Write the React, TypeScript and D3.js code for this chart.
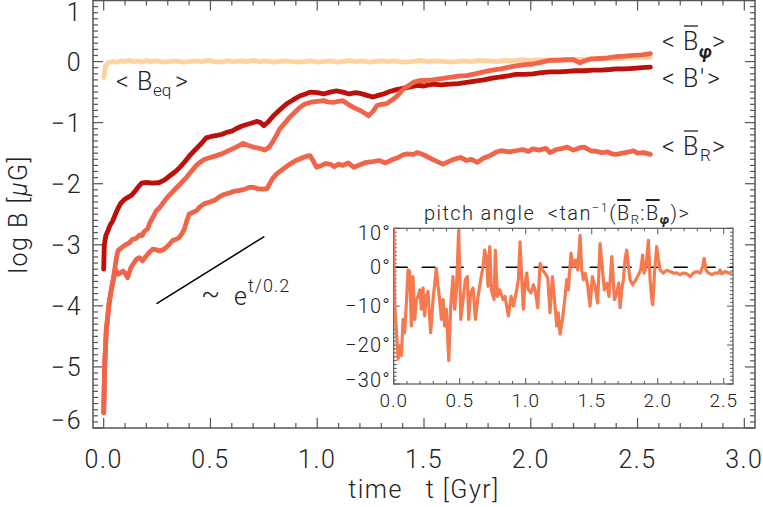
import React from 'react';
import * as d3 from 'd3';

type P = [number, number];

const W = 763;
const H = 507;

// main axes
const xMajorTicks = [0, 0.5, 1.0, 1.5, 2.0, 2.5, 3.0];
const xTickLabels = ['0.0', '0.5', '1.0', '1.5', '2.0', '2.5', '3.0'];
const yMajorTicks = [1, 0, -1, -2, -3, -4, -5, -6];
const yTickLabels = ['1', '0', '−1', '−2', '−3', '−4', '−5', '−6'];

// inset axes
const insetXTicks = [0, 0.5, 1.0, 1.5, 2.0, 2.5];
const insetXTickLabels = ['0.0', '0.5', '1.0', '1.5', '2.0', '2.5'];
const insetYTicks = [10, 0, -10, -20, -30];
const insetYTickLabels = ['10°', '0°', '−10°', '−20°', '−30°'];

// <B_eq>
const bEq: P[] = [
  [0.0, -0.26], [0.008, -0.08], [0.02, -0.02], [0.04, 0.0], [0.06, -0.01], [0.08, 0.01], [0.1, 0.0],
  [0.12, 0.02], [0.14, 0.0], [0.16, 0.01], [0.18, -0.01], [0.2, 0.02], [0.22, 0.0], [0.25, 0.01],
  [0.28, -0.01], [0.31, 0.0], [0.34, 0.01], [0.37, -0.01], [0.4, 0.0], [0.43, 0.01], [0.46, 0.0],
  [0.49, 0.02], [0.52, 0.0], [0.55, -0.01], [0.58, 0.01], [0.61, 0.0], [0.64, 0.01], [0.67, 0.0],
  [0.7, 0.02], [0.73, 0.0], [0.76, 0.01], [0.79, -0.01], [0.82, 0.0], [0.85, 0.01], [0.88, 0.0],
  [0.91, -0.01], [0.94, 0.0], [0.97, 0.01], [1.0, -0.01], [1.03, 0.0], [1.06, 0.01], [1.09, -0.01],
  [1.12, 0.0], [1.15, 0.02], [1.18, 0.0], [1.21, 0.01], [1.24, -0.01], [1.27, 0.0], [1.3, 0.01],
  [1.33, 0.0], [1.36, 0.01], [1.4, -0.01], [1.44, 0.0], [1.48, 0.02], [1.52, 0.0], [1.56, 0.01],
  [1.6, 0.0], [1.64, -0.01], [1.68, 0.01], [1.72, 0.0], [1.76, 0.02], [1.8, 0.01], [1.84, 0.0],
  [1.88, 0.02], [1.92, 0.01], [1.96, 0.03], [2.0, 0.02], [2.04, 0.03], [2.08, 0.02], [2.12, 0.04],
  [2.16, 0.03], [2.2, 0.04], [2.24, 0.03], [2.28, 0.05], [2.32, 0.04], [2.36, 0.05], [2.4, 0.05],
  [2.44, 0.06], [2.48, 0.06], [2.52, 0.07], [2.56, 0.07],
];

// <B'>
const bPrime: P[] = [
  [0, -3.4], [0.003, -3.0], [0.01, -2.85], [0.02, -2.77], [0.03, -2.68], [0.042, -2.61], [0.055, -2.5],
  [0.066, -2.41], [0.08, -2.32], [0.097, -2.26], [0.115, -2.22], [0.13, -2.19], [0.152, -2.1],
  [0.165, -2.04], [0.178, -1.99], [0.2, -1.98], [0.23, -1.99], [0.26, -1.98], [0.284, -1.94],
  [0.31, -1.87], [0.34, -1.79], [0.36, -1.72], [0.38, -1.64], [0.4, -1.55], [0.43, -1.44],
  [0.46, -1.33], [0.48, -1.25], [0.5, -1.23], [0.53, -1.21], [0.555, -1.19], [0.575, -1.16],
  [0.6, -1.14], [0.62, -1.1], [0.645, -1.06], [0.67, -1.03], [0.69, -1.01], [0.716, -0.98],
  [0.735, -1.0], [0.75, -1.05], [0.77, -0.99], [0.794, -0.89], [0.825, -0.79], [0.857, -0.69],
  [0.89, -0.62], [0.92, -0.56], [0.945, -0.53], [0.966, -0.5], [1.0, -0.51], [1.03, -0.53],
  [1.06, -0.5], [1.09, -0.48], [1.12, -0.5], [1.15, -0.53], [1.18, -0.51], [1.2, -0.52],
  [1.23, -0.55], [1.26, -0.58], [1.29, -0.55], [1.31, -0.53], [1.34, -0.49], [1.37, -0.46],
  [1.4, -0.44], [1.43, -0.42], [1.47, -0.39], [1.5, -0.4], [1.54, -0.37], [1.58, -0.38],
  [1.62, -0.37], [1.66, -0.36], [1.7, -0.34], [1.74, -0.32], [1.78, -0.3], [1.82, -0.27],
  [1.86, -0.25], [1.9, -0.23], [1.93, -0.21], [1.97, -0.21], [2.01, -0.2], [2.05, -0.18],
  [2.09, -0.17], [2.13, -0.17], [2.17, -0.16], [2.21, -0.15], [2.25, -0.15], [2.29, -0.14],
  [2.33, -0.14], [2.37, -0.13], [2.4, -0.12], [2.44, -0.12], [2.48, -0.11], [2.52, -0.1], [2.56, -0.09],
];

// <B_phi>
const bPhi: P[] = [
  [0, -5.75], [0.005, -4.96], [0.012, -4.41], [0.025, -3.97], [0.035, -3.75], [0.044, -3.59],
  [0.052, -3.4], [0.06, -3.21], [0.067, -3.1], [0.075, -3.07], [0.09, -3.03], [0.106, -2.99],
  [0.12, -2.97], [0.135, -2.91], [0.15, -2.9], [0.169, -2.84], [0.18, -2.85], [0.19, -2.78],
  [0.206, -2.74], [0.216, -2.64], [0.23, -2.55], [0.247, -2.44], [0.26, -2.4], [0.275, -2.33],
  [0.294, -2.24], [0.31, -2.18], [0.34, -2.07], [0.36, -2.0], [0.387, -1.9], [0.41, -1.8],
  [0.434, -1.7], [0.455, -1.64], [0.473, -1.6], [0.5, -1.57], [0.528, -1.54], [0.56, -1.5],
  [0.59, -1.45], [0.62, -1.4], [0.653, -1.34], [0.675, -1.37], [0.7, -1.4], [0.73, -1.42],
  [0.755, -1.45], [0.775, -1.4], [0.794, -1.3], [0.81, -1.2], [0.825, -1.1], [0.85, -1.0],
  [0.872, -0.91], [0.895, -0.83], [0.919, -0.75], [0.94, -0.7], [0.966, -0.67], [1.0, -0.65],
  [1.03, -0.64], [1.05, -0.66], [1.075, -0.67], [1.1, -0.65], [1.12, -0.64], [1.145, -0.7],
  [1.17, -0.75], [1.2, -0.8], [1.225, -0.85], [1.24, -0.89], [1.26, -0.82], [1.28, -0.72],
  [1.3, -0.7], [1.325, -0.69], [1.35, -0.63], [1.37, -0.58], [1.39, -0.5], [1.41, -0.43],
  [1.43, -0.39], [1.45, -0.34], [1.48, -0.31], [1.51, -0.31], [1.54, -0.3], [1.58, -0.28],
  [1.62, -0.26], [1.66, -0.24], [1.7, -0.23], [1.74, -0.2], [1.78, -0.17], [1.82, -0.14],
  [1.86, -0.12], [1.9, -0.09], [1.93, -0.07], [1.97, -0.05], [2.01, -0.04], [2.05, -0.01],
  [2.09, 0.02], [2.13, 0.02], [2.17, 0.03], [2.2, 0.03], [2.23, -0.02], [2.25, 0.01], [2.28, 0.04],
  [2.32, 0.05], [2.36, 0.06], [2.4, 0.08], [2.44, 0.09], [2.48, 0.1], [2.52, 0.11], [2.56, 0.13],
];

// <B_R>
const bR: P[] = [
  [0, -5.75], [0.005, -4.96], [0.012, -4.41], [0.025, -3.97], [0.035, -3.75], [0.044, -3.59],
  [0.052, -3.45], [0.06, -3.43], [0.066, -3.48], [0.075, -3.47], [0.09, -3.43], [0.1, -3.46],
  [0.112, -3.54], [0.12, -3.45], [0.128, -3.37], [0.143, -3.29], [0.155, -3.23], [0.167, -3.21],
  [0.182, -3.26], [0.2, -3.18], [0.215, -3.12], [0.23, -3.07], [0.245, -3.08], [0.26, -3.1],
  [0.28, -3.08], [0.3, -3.02], [0.323, -2.93], [0.34, -2.91], [0.354, -2.88], [0.366, -2.82],
  [0.378, -2.74], [0.39, -2.6], [0.4, -2.5], [0.417, -2.47], [0.435, -2.44], [0.45, -2.38],
  [0.47, -2.33], [0.497, -2.3], [0.52, -2.27], [0.54, -2.22], [0.56, -2.18], [0.59, -2.15],
  [0.615, -2.12], [0.637, -2.11], [0.66, -2.09], [0.68, -2.06], [0.7, -2.06], [0.72, -2.08],
  [0.745, -2.09], [0.765, -2.08], [0.79, -1.92], [0.81, -1.84], [0.84, -1.76], [0.872, -1.68],
  [0.9, -1.62], [0.934, -1.57], [0.95, -1.55], [0.966, -1.54], [0.98, -1.62], [0.997, -1.73],
  [1.02, -1.7], [1.04, -1.67], [1.06, -1.68], [1.08, -1.72], [1.1, -1.68], [1.12, -1.7],
  [1.145, -1.66], [1.17, -1.73], [1.2, -1.69], [1.23, -1.65], [1.26, -1.64], [1.29, -1.62],
  [1.32, -1.66], [1.356, -1.6], [1.38, -1.57], [1.4, -1.53], [1.42, -1.51], [1.45, -1.52],
  [1.47, -1.49], [1.5, -1.53], [1.54, -1.6], [1.57, -1.65], [1.59, -1.68], [1.62, -1.63],
  [1.64, -1.6], [1.67, -1.57], [1.7, -1.62], [1.72, -1.6], [1.75, -1.65], [1.78, -1.58],
  [1.81, -1.54], [1.84, -1.48], [1.86, -1.46], [1.9, -1.48], [1.93, -1.46], [1.96, -1.44],
  [1.99, -1.47], [2.01, -1.43], [2.04, -1.45], [2.07, -1.42], [2.09, -1.49], [2.12, -1.44],
  [2.15, -1.42], [2.17, -1.4], [2.2, -1.45], [2.23, -1.41], [2.25, -1.4], [2.28, -1.46],
  [2.31, -1.47], [2.33, -1.49], [2.36, -1.48], [2.38, -1.51], [2.4, -1.52], [2.43, -1.5],
  [2.46, -1.48], [2.48, -1.46], [2.5, -1.5], [2.53, -1.49], [2.56, -1.52],
];

// reference growth slope ~ e^{t/0.2}
const growthLine: P[] = [[0.25, -3.96], [0.75, -2.87]];

// pitch angle (degrees)
const pitch: P[] = [
  [0, 12], [0.003, -0.7], [0.008, -10.3], [0.02, -15.9], [0.033, -23.6], [0.045, -20.2], [0.058, -22.7],
  [0.071, -13.4], [0.083, -16.8], [0.096, -9.2], [0.109, -0.7], [0.121, -1.1], [0.134, -15.1],
  [0.146, -2.4], [0.159, -13.4], [0.172, -8.3], [0.184, -7.5], [0.197, -5.8], [0.21, -10.8],
  [0.222, -5.3], [0.235, -12.5], [0.247, -7.5], [0.26, -6.2], [0.273, -13.4], [0.28, -16.8],
  [0.298, -8.3], [0.323, -0.3], [0.336, -4.9], [0.348, -8.3], [0.361, -13.4], [0.374, -8.3],
  [0.386, -15.1], [0.399, -10.8], [0.417, -24.0], [0.432, -10.0], [0.449, -2.4], [0.462, -10.8],
  [0.475, -5.8], [0.492, 9.5], [0.508, -13.4], [0.525, -8.3], [0.543, -3.2], [0.558, -2.4],
  [0.568, -13.4], [0.583, -6.6], [0.601, -5.3], [0.619, -13.4], [0.639, -7.5], [0.659, -3.2],
  [0.677, 0.2], [0.689, 4.4], [0.702, 2.7], [0.715, -4.9], [0.727, 5.3], [0.74, -5.8], [0.76, -8.3],
  [0.77, 4.4], [0.785, -7.5], [0.803, -5.8], [0.828, -8.3], [0.843, -7.5], [0.869, -12.5],
  [0.889, -7.5], [0.907, -10.0], [0.932, -5.8], [0.944, -3.2], [0.957, 6.5], [0.97, -3.2],
  [0.982, -10.8], [0.995, -4.1], [1.008, -1.5], [1.02, -5.8], [1.04, -6.6], [1.058, -4.5],
  [1.071, -5.8], [1.091, -10.4], [1.109, 1.0], [1.126, -0.7], [1.146, -1.5], [1.167, -2.8],
  [1.184, -11.7], [1.202, -2.4], [1.222, -10.0], [1.235, -15.1], [1.247, -11.7], [1.26, -17.2],
  [1.278, -13.4], [1.293, -9.2], [1.311, -3.2], [1.323, -5.8], [1.343, 3.6], [1.361, 0.2],
  [1.379, 1.9], [1.394, -0.7], [1.412, 8.2], [1.424, -0.7], [1.437, -3.2], [1.45, -1.5],
  [1.47, -4.9], [1.487, -10.0], [1.505, -2.4], [1.525, -4.9], [1.545, -9.2], [1.563, 6.1],
  [1.581, -0.7], [1.596, -5.8], [1.614, -4.1], [1.631, -7.5], [1.652, 2.7], [1.672, -8.3],
  [1.689, -6.6], [1.705, -4.1], [1.715, -10.4], [1.727, -5.8], [1.74, -3.2], [1.752, 1.9],
  [1.765, 4.4], [1.778, 0.2], [1.79, -3.2], [1.811, -4.5], [1.828, -3.6], [1.854, -1.9],
  [1.871, -0.7], [1.886, 3.1], [1.896, -1.5], [1.912, 0.2], [1.929, 6.9], [1.942, -3.2],
  [1.955, -8.3], [1.962, -9.6], [1.975, -1.5], [1.992, 5.3], [2.005, 1.9], [2.018, -0.7],
  [2.043, -1.5], [2.068, -0.8], [2.093, -1.1], [2.119, -1.5], [2.144, -1.5], [2.169, -1.9],
  [2.194, -1.5], [2.22, -1.7], [2.245, -2.4], [2.27, -1.5], [2.295, -1.1], [2.321, -1.5],
  [2.341, 0.2], [2.351, 2.3], [2.366, -0.7], [2.384, -1.5], [2.409, -1.9], [2.434, -1.5],
  [2.46, -1.5], [2.472, -0.7], [2.485, -1.7], [2.51, -1.1], [2.535, -1.5], [2.561, -1.5],
];

const C_EQ = '#FDD49E';
const C_PRIME = '#BD100B';
const C_ORANGE = '#F0654A';
const C_INSET = '#F67A50';
const AXIS = '#555';
const TEXT = '#222';
const FONT = 'Roboto, "DejaVu Sans", sans-serif';

function range(a: number, b: number, step: number): number[] {
  const out: number[] = [];
  const n = Math.round((b - a) / step);
  for (let i = 0; i <= n; i++) out.push(+(a + i * step).toFixed(4));
  return out;
}

export default function App() {
  // main frame
  const L = 93, R = 755, T = 0.5, B = 428;
  const x = d3.scaleLinear().domain([-0.05, 3.05]).range([L, R]);
  const y = d3.scaleLinear().domain([-6, 1]).range([B, T]);
  const line = d3.line<P>().x((d) => x(d[0])).y((d) => y(d[1]));

  // inset frame
  const iL = 393.7, iR = 733, iT = 228.3, iB = 384;
  const xi = d3.scaleLinear().domain([0, 2.57]).range([iL, iR]);
  const yi = d3.scaleLinear().domain([-30, 10]).range([iB, iT]);
  const iline = d3.line<P>().x((d) => xi(d[0])).y((d) => yi(d[1]));

  const xMinor = range(0, 3.0, 0.1);
  const yMinor = range(-6, 1, 0.1);
  const ixMinor = range(0, 2.5, 0.1);
  const iyMinor = range(-30, 10, 1);

  const fs = 25;
  const lab = { fontSize: fs, fill: TEXT, letterSpacing: 1.5 } as const;
  const ilab = { fontSize: 20, fill: TEXT, letterSpacing: 1.2 } as const;

  return (
    <svg
      width={W}
      height={H}
      style={{ position: 'absolute', left: 0, top: 0, background: '#fff' }}
      fontFamily={FONT}
      fontWeight={300}
    >
      <rect x={0} y={0} width={W} height={H} fill="#fff" />
      <defs>
        <clipPath id="mainClip">
          <rect x={L} y={0} width={R - L} height={B} />
        </clipPath>
        <clipPath id="insetClip">
          <rect x={iL} y={iT} width={iR - iL} height={iB - iT} />
        </clipPath>
      </defs>

      {/* main frame */}
      <rect x={L} y={T} width={R - L} height={B - T} fill="none" stroke={AXIS} strokeWidth={1.5} />
      {xMinor.map((t) => {
        const major = Math.abs(t * 2 - Math.round(t * 2)) < 1e-6;
        const len = major ? 10 : 5;
        return (
          <g key={'xt' + t} stroke={AXIS} strokeWidth={1.2}>
            <line x1={x(t)} x2={x(t)} y1={B} y2={B - len} />
            <line x1={x(t)} x2={x(t)} y1={T} y2={T + len} />
          </g>
        );
      })}
      {yMinor.map((v) => {
        const major = Math.abs(v - Math.round(v)) < 1e-6;
        const len = major ? 10 : 5;
        return (
          <g key={'yt' + v} stroke={AXIS} strokeWidth={1.2}>
            <line x1={L} x2={L + len} y1={y(v)} y2={y(v)} />
            <line x1={R} x2={R - len} y1={y(v)} y2={y(v)} />
          </g>
        );
      })}
      {xMajorTicks.map((t, i) => (
        <text key={'xl' + t} x={x(t)} y={468} textAnchor="middle" {...lab}>
          {xTickLabels[i]}
        </text>
      ))}
      {yMajorTicks.map((v, i) => {
        const base = Math.min(Math.max(y(v) + 9, 21), B + 1);
        return (
          <text key={'yl' + v} x={82} y={base} textAnchor="end" {...lab}>
            {yTickLabels[i]}
          </text>
        );
      })}
      <text x={(L + R) / 2} y={498} textAnchor="middle" style={{ whiteSpace: 'pre' }} {...lab}>
        {'time   t [Gyr]'}
      </text>
      <text
        transform={`translate(27, ${(T + B) / 2}) rotate(-90)`}
        textAnchor="middle"
        {...lab}
      >
        log B [<tspan fontStyle="italic">μ</tspan>G]
      </text>

      {/* curves */}
      <g clipPath="url(#mainClip)" fill="none" strokeWidth={4.8} strokeLinejoin="round" strokeLinecap="round">
        <path d={line(bEq) || ''} stroke={C_EQ} />
        <path d={line(bPrime) || ''} stroke={C_PRIME} />
        <path d={line(bR) || ''} stroke={C_ORANGE} />
        <path d={line(bPhi) || ''} stroke={C_ORANGE} />
        <path d={line(growthLine) || ''} stroke="#000" strokeWidth={1.5} />
      </g>

      {/* growth label */}
      <text x={201} y={303} fontSize={28} fill={TEXT}>~</text>
      <text x={234} y={305} {...lab}>e</text>
      <text x={248} y={292} fontSize={18} fill={TEXT} letterSpacing={1}>t/0.2</text>

      {/* series labels */}
      <g fill={TEXT} fontSize={fs}>
        {/* <B_phi> */}
        <text x={662} y={50}>&lt;</text>
        <text x={683} y={50}>B</text>
        <line x1={684} x2={698} y1={26} y2={26} stroke={TEXT} strokeWidth={1.3} />
        <text x={699} y={58} fontSize={18} fontStyle="italic" fontWeight={700}>φ</text>
        <text x={712} y={50}>&gt;</text>
        {/* <B'> */}
        <text x={662} y={87}>&lt;</text>
        <text x={683} y={87}>B</text>
        <text x={700} y={87}>'</text>
        <text x={707} y={87}>&gt;</text>
        {/* <B_R> */}
        <text x={662} y={155}>&lt;</text>
        <text x={683} y={155}>B</text>
        <line x1={684} x2={698} y1={131} y2={131} stroke={TEXT} strokeWidth={1.3} />
        <text x={700} y={161} fontSize={17}>R</text>
        <text x={712} y={155}>&gt;</text>
        {/* <B_eq> */}
        <text x={116} y={90}>&lt;</text>
        <text x={137} y={90}>B</text>
        <text x={153} y={96} fontSize={17}>eq</text>
        <text x={175} y={90}>&gt;</text>
      </g>

      {/* inset */}
      <rect x={iL} y={iT} width={iR - iL} height={iB - iT} fill="#fff" stroke={AXIS} strokeWidth={1.2} />
      {ixMinor.map((t) => {
        const major = Math.abs(t * 2 - Math.round(t * 2)) < 1e-6;
        const len = major ? 6 : 3;
        return (
          <g key={'ixt' + t} stroke={AXIS} strokeWidth={1}>
            <line x1={xi(t)} x2={xi(t)} y1={iB} y2={iB - len} />
            <line x1={xi(t)} x2={xi(t)} y1={iT} y2={iT + len} />
          </g>
        );
      })}
      {iyMinor.map((v) => {
        const major = v % 10 === 0;
        const len = major ? 6 : 3;
        return (
          <g key={'iyt' + v} stroke={AXIS} strokeWidth={1}>
            <line x1={iL} x2={iL + len} y1={yi(v)} y2={yi(v)} />
            <line x1={iR} x2={iR - len} y1={yi(v)} y2={yi(v)} />
          </g>
        );
      })}
      <line x1={iL} x2={iR} y1={yi(0)} y2={yi(0)} stroke="#000" strokeWidth={1.3} strokeDasharray="14,14" />
      <g clipPath="url(#insetClip)">
        <path d={iline(pitch) || ''} fill="none" stroke={C_INSET} strokeWidth={3.2} strokeLinejoin="round" />
      </g>
      {insetXTicks.map((t, i) => (
        <text key={'ixl' + t} x={xi(t)} y={407} textAnchor="middle" fontSize={19} fill={TEXT} letterSpacing={1}>
          {insetXTickLabels[i]}
        </text>
      ))}
      {insetYTicks.map((v, i) => {
        const cy = Math.min(Math.max(yi(v), iT + 5), iB - 4);
        return (
          <text key={'iyl' + v} x={391} y={cy + 7} textAnchor="end" {...ilab}>
            {insetYTickLabels[i]}
          </text>
        );
      })}
      <text x={424} y={220} fontSize={20} fill={TEXT} letterSpacing={1.4} style={{ whiteSpace: 'pre' }}>
        {'pitch angle  <tan'}
        <tspan dy={-8} fontSize={13}>−1</tspan>
        <tspan dy={8}>(</tspan>
        <tspan style={{ textDecoration: 'overline' }}>B</tspan>
        <tspan dy={4} fontSize={13}>R</tspan>
        <tspan dy={-4}>:</tspan>
        <tspan style={{ textDecoration: 'overline' }}>B</tspan>
        <tspan dy={4} fontSize={13} fontStyle="italic" fontWeight={700}>φ</tspan>
        <tspan dy={-4}>)&gt;</tspan>
      </text>
    </svg>
  );
}
